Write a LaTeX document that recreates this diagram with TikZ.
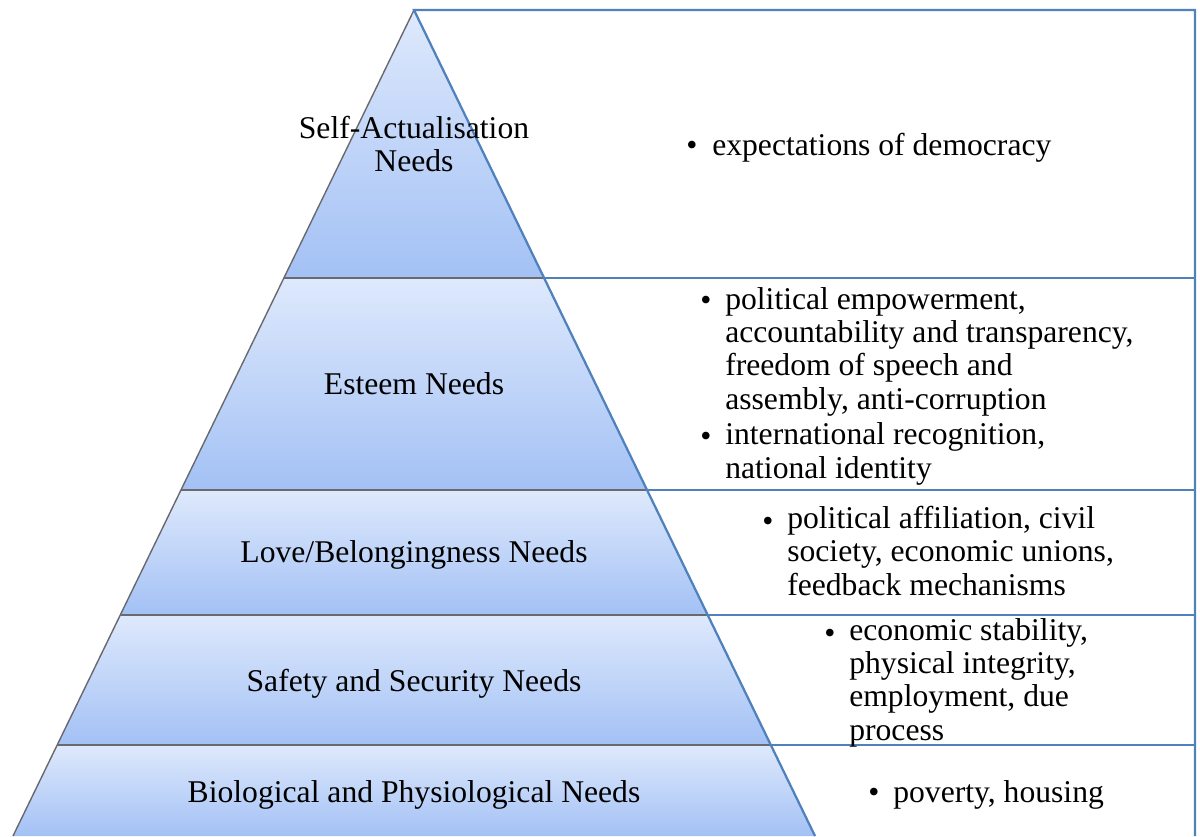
\documentclass[tikz,border=0pt]{standalone}
\usepackage{fontspec}
\setmainfont{Liberation Serif}
\definecolor{pyrtop}{RGB}{222,233,252}
\definecolor{pyrbot}{RGB}{163,193,245}
\definecolor{pyrline}{RGB}{105,105,110}
\definecolor{boxline}{RGB}{79,129,189}
\newcommand\needsfont{\fontsize{22.5}{23.5}\selectfont}
\tikzset{
  layer/.style={top color=pyrtop, bottom color=pyrbot},
  levelname/.style={font=\needsfont, anchor=base, inner sep=0},
  bulletmark/.style={font=\needsfont, anchor=base west, inner sep=0},
  itemtext/.style={font=\needsfont, anchor=base west, align=left, inner sep=0}
}
\begin{document}
\begin{tikzpicture}[x=0.025cm, y=-0.025cm]
\useasboundingbox (0,0) rectangle (1200,836);

% pyramid layers
\shade[layer] (414,10) -- (544,278) -- (284,278) -- cycle;
\shade[layer] (284,278) -- (544,278) -- (647,490) -- (181,490) -- cycle;
\shade[layer] (181,490) -- (647,490) -- (708,615) -- (120,615) -- cycle;
\shade[layer] (120,615) -- (708,615) -- (771,745) -- (57,745) -- cycle;
\shade[layer] (57,745) -- (771,745) -- (815,836) -- (13,836) -- cycle;

\draw[pyrline, line width=1pt] (414,10) -- (13,836);
\draw[pyrline, line width=1.1pt] (284,278) -- (544,278);
\draw[pyrline, line width=1.1pt] (181,490) -- (647,490);
\draw[pyrline, line width=1.1pt] (120,615) -- (708,615);
\draw[pyrline, line width=1.1pt] (57,745) -- (771,745);

% boxes on the right
\draw[boxline, line width=1.6pt] (815,836) -- (414,10) -- (1195,10) -- (1195,836);
\draw[boxline, line width=1.6pt] (544,278) -- (1195,278);
\draw[boxline, line width=1.6pt] (647,490) -- (1195,490);
\draw[boxline, line width=1.6pt] (708,615) -- (1195,615);
\draw[boxline, line width=1.6pt] (771,745) -- (1195,745);

% level names
\node[levelname] (self) at (414,138) {Self-Actualisation};
\node[levelname] (selfb) at (414,171) {Needs};
\node[levelname] (esteem) at (414,394) {Esteem Needs};
\node[levelname] (love) at (414,562) {Love/Belongingness Needs};
\node[levelname] (safety) at (414,691) {Safety and Security Needs};
\node[levelname] (bio) at (414,802) {Biological and Physiological Needs};

% examples (multi-line texts sit on the baseline of their last line)
\node[bulletmark] (b1) at (686,155) {\textbullet};
\node[itemtext] (t1) at (712,155) {expectations of democracy};

\node[bulletmark] (b2) at (700,310) {\textbullet};
\node[itemtext] (t2) at (725,409) {political empowerment,\\accountability and transparency,\\freedom of speech and\\assembly, anti-corruption};
\node[bulletmark] (b3) at (700,446) {\textbullet};
\node[itemtext] (t3) at (725,478) {international recognition,\\national identity};

\node[bulletmark] (b4) at (762,531) {\textbullet};
\node[itemtext] (t4) at (787,595) {political affiliation, civil\\society, economic unions,\\feedback mechanisms};

\node[bulletmark] (b5) at (824,643) {\textbullet};
\node[itemtext] (t5) at (849,740) {economic stability,\\physical integrity,\\employment, due\\process};

\node[bulletmark] (b6) at (868,802) {\textbullet};
\node[itemtext] (t6) at (893,802) {poverty, housing};
\end{tikzpicture}
\end{document}
